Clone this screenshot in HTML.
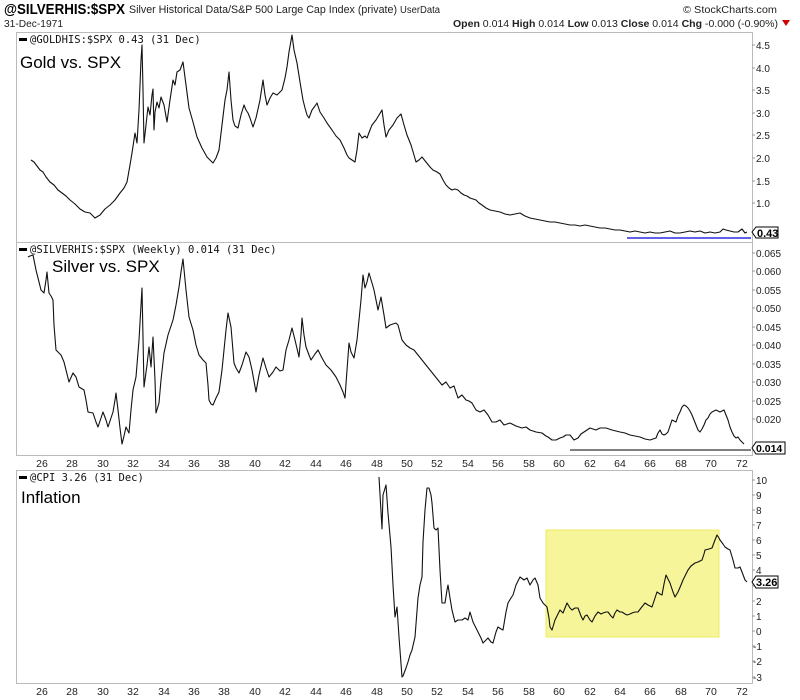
<!DOCTYPE html>
<html><head><meta charset="utf-8"><style>
html,body{margin:0;padding:0;background:#fff;}
svg{display:block;font-family:"Liberation Sans",sans-serif;}
.t{font-size:10px;fill:#222;}
.m{font-family:"DejaVu Sans Mono","Liberation Mono",monospace;font-size:10.5px;fill:#111;}
.big{font-size:17px;fill:#000;}
</style></head><body>
<svg width="800" height="700" viewBox="0 0 800 700">
<rect width="800" height="700" fill="#fff"/>
<!-- header -->
<text x="4" y="14" style="font-size:15px;font-weight:bold" fill="#000" textLength="121" lengthAdjust="spacingAndGlyphs">@SILVERHIS:$SPX</text>
<text x="129" y="13" class="t" style="font-size:11px" textLength="268" lengthAdjust="spacingAndGlyphs">Silver Historical Data/S&amp;P 500 Large Cap Index (private)</text>
<text x="400" y="13" class="t" textLength="40" lengthAdjust="spacingAndGlyphs">UserData</text>
<text x="683" y="13" class="t" fill="#555" textLength="94" lengthAdjust="spacingAndGlyphs">© StockCharts.com</text>
<text x="4" y="27" class="t" textLength="59" lengthAdjust="spacingAndGlyphs">31-Dec-1971</text>
<text x="778" y="27" class="t" text-anchor="end" style="font-size:10.5px" textLength="325" lengthAdjust="spacingAndGlyphs"><tspan font-weight="bold">Open</tspan> 0.014 <tspan font-weight="bold">High</tspan> 0.014 <tspan font-weight="bold">Low</tspan> 0.013 <tspan font-weight="bold">Close</tspan> 0.014 <tspan font-weight="bold">Chg</tspan> -0.000 (-0.90%)</text>
<polygon points="782,20 790,20 786,26" fill="#c00"/>

<!-- panel borders -->
<g fill="none" stroke="#bbb" stroke-width="1">
<rect x="16.5" y="32.5" width="736" height="210"/>
<rect x="16.5" y="242.5" width="736" height="213"/>
<rect x="16.5" y="470.5" width="736" height="213"/>
</g>

<!-- right axis ticks/labels -->
<g class="t" style="font-size:10px">
<text x="756" y="49">4.5</text><text x="756" y="72">4.0</text><text x="756" y="94">3.5</text><text x="756" y="117">3.0</text><text x="756" y="139">2.5</text><text x="756" y="162">2.0</text><text x="756" y="185">1.5</text><text x="756" y="207">1.0</text>
<text x="756" y="257">0.065</text><text x="756" y="275">0.060</text><text x="756" y="294">0.055</text><text x="756" y="312">0.050</text><text x="756" y="331">0.045</text><text x="756" y="349">0.040</text><text x="756" y="368">0.035</text><text x="756" y="386">0.030</text><text x="756" y="405">0.025</text><text x="756" y="423">0.020</text>
<text x="756" y="484">10</text><text x="756" y="499">9</text><text x="756" y="514">8</text><text x="756" y="529">7</text><text x="756" y="544">6</text><text x="756" y="559">5</text><text x="756" y="574">4</text><text x="756" y="605">2</text><text x="756" y="620">1</text><text x="756" y="635">0</text><text x="753" y="650">-1</text><text x="753" y="665">-2</text><text x="753" y="681">-3</text>
</g>
<g stroke="#999" stroke-width="1">
<path d="M752 45h3M752 68h3M752 90h3M752 113h3M752 135h3M752 158h3M752 181h3M752 203h3M752 253h3M752 271h3M752 290h3M752 308h3M752 327h3M752 345h3M752 364h3M752 382h3M752 401h3M752 419h3M752 480h3M752 495h3M752 510h3M752 525h3M752 540h3M752 555h3M752 570h3M752 586h3M752 601h3M752 616h3M752 631h3M752 646h3M752 661h3M752 677h3"/>
</g>

<!-- x axis labels -->
<g class="t" style="font-size:10.5px" text-anchor="middle">
<text x="42" y="467">26</text><text x="72" y="467">28</text><text x="103" y="467">30</text><text x="133" y="467">32</text><text x="164" y="467">34</text><text x="194" y="467">36</text><text x="224" y="467">38</text><text x="255" y="467">40</text><text x="285" y="467">42</text><text x="316" y="467">44</text><text x="346" y="467">46</text><text x="377" y="467">48</text><text x="407" y="467">50</text><text x="437" y="467">52</text><text x="468" y="467">54</text><text x="498" y="467">56</text><text x="529" y="467">58</text><text x="559" y="467">60</text><text x="590" y="467">62</text><text x="620" y="467">64</text><text x="650" y="467">66</text><text x="681" y="467">68</text><text x="711" y="467">70</text><text x="742" y="467">72</text>
<text x="42" y="695">26</text><text x="72" y="695">28</text><text x="103" y="695">30</text><text x="133" y="695">32</text><text x="164" y="695">34</text><text x="194" y="695">36</text><text x="224" y="695">38</text><text x="255" y="695">40</text><text x="285" y="695">42</text><text x="316" y="695">44</text><text x="346" y="695">46</text><text x="377" y="695">48</text><text x="407" y="695">50</text><text x="437" y="695">52</text><text x="468" y="695">54</text><text x="498" y="695">56</text><text x="529" y="695">58</text><text x="559" y="695">60</text><text x="590" y="695">62</text><text x="620" y="695">64</text><text x="650" y="695">66</text><text x="681" y="695">68</text><text x="711" y="695">70</text><text x="742" y="695">72</text>
</g>

<!-- panel titles -->
<rect x="19" y="38" width="8" height="3" fill="#000"/>
<text x="30" y="43" class="m">@GOLDHIS:$SPX 0.43 (31 Dec)</text>
<text x="20" y="68" class="big">Gold vs. SPX</text>
<rect x="19" y="248" width="8" height="3" fill="#000"/>
<text x="30" y="253" class="m">@SILVERHIS:$SPX (Weekly) 0.014 (31 Dec)</text>
<text x="52" y="272" class="big">Silver vs. SPX</text>
<rect x="19" y="476" width="8" height="3" fill="#000"/>
<text x="30" y="481" class="m">@CPI 3.26 (31 Dec)</text>
<text x="21" y="503" class="big">Inflation</text>

<!-- yellow box -->
<rect x="546" y="530" width="173" height="107" fill="#f6f59a" stroke="#ecec60" stroke-width="1"/>

<!-- reference lines -->
<line x1="627" y1="238" x2="751" y2="238" stroke="#0000e0" stroke-width="1.2"/>
<line x1="570" y1="450" x2="751" y2="450" stroke="#000" stroke-width="1"/>

<!-- gold -->
<polyline fill="none" stroke="#111" stroke-width="1.1" stroke-linejoin="round" points="31,160 34,162 37,166 40,170 43,172 46,177 50,182 54,185 58,190 62,193 66,196 70,200 75,204 80,209 85,212 90,213 95,218 100,215 105,209 110,205 115,200 120,193 124,188 127,182 130,165 132,153 135,133 137,143 139,110 141,60 142,45 143,90 144,143 146,125 148,107 150,115 152,95 153,89 154,130 155,112 157,102 159,108 161,97 164,105 167,122 170,100 173,80 175,85 177,72 180,70 183,62 186,85 189,108 193,122 197,137 202,148 207,157 210,160 213,163 216,158 219,150 222,125 225,100 227,90 229,72 231,100 233,120 235,126 238,128 241,115 244,105 246,110 248,113 250,118 253,127 256,118 260,100 263,80 265,95 267,105 270,98 273,93 277,95 282,90 285,78 287,67 289,52 292,35 294,50 297,63 300,82 303,100 305,108 307,115 309,118 312,110 315,106 317,103 320,112 324,118 327,123 332,130 336,136 340,140 344,148 347,155 349,158 352,160 355,162 357,150 359,133 362,138 365,136 367,138 370,130 372,125 376,120 379,115 382,110 384,125 386,137 389,130 393,125 397,118 401,114 404,125 407,135 411,145 414,155 416,162 419,160 422,157 426,162 430,167 433,170 437,172 440,174 443,180 446,185 449,188 452,190 455,189 458,190 461,193 464,195 467,196 470,198 473,199 476,200 479,203 482,205 486,208 490,210 495,211 500,212 505,214 510,215 515,214 520,213 525,216 530,218 535,219 540,220 545,221 550,222 555,222 560,223 565,224 570,225 575,225 580,226 585,225 590,226 595,227 600,228 605,228 610,229 615,230 620,230 625,231 630,232 635,231 640,232 645,233 650,232 655,233 660,233 665,232 670,231 675,233 680,233 685,232 690,231 695,232 700,231 705,233 710,232 715,233 720,232 723,229 726,230 730,231 734,232 738,232 742,229 745,233 747,232"/>

<!-- silver -->
<polyline fill="none" stroke="#111" stroke-width="1.1" stroke-linejoin="round" points="28,257 30,256 33,255 36,270 39,282 41,290 44,293 46,280 47,272 49,293 51,296 53,300 54,325 56,350 61,355 64,362 66,370 69,382 73,373 76,377 79,387 84,390 86,400 88,412 93,413 96,422 98,427 101,418 103,412 106,420 108,427 111,418 113,412 115,400 116,393 118,410 120,428 122,444 124,436 126,427 129,433 131,410 133,390 136,377 139,340 142,288 144,387 147,365 149,347 151,367 153,337 155,380 156,413 159,403 161,380 164,353 168,335 173,320 176,305 179,287 181,272 183,259 186,290 189,317 193,330 196,345 199,355 203,360 206,363 208,385 209,400 211,404 213,405 216,398 219,392 222,370 224,350 226,330 228,313 231,327 234,363 236,368 239,373 242,365 246,352 249,357 252,370 256,392 259,375 263,358 266,368 269,377 273,372 276,367 280,371 283,370 286,350 289,340 292,328 295,340 299,357 301,335 302,318 304,335 306,347 309,355 311,360 315,354 318,350 322,358 326,365 331,370 336,377 340,385 343,392 345,398 347,370 349,343 351,352 354,358 357,340 359,320 361,300 363,275 365,288 367,282 369,273 372,283 374,290 376,300 378,310 381,297 384,315 386,328 390,325 393,324 396,323 398,325 402,340 406,345 410,348 414,350 418,355 422,360 426,365 430,370 434,375 438,380 442,385 446,382 450,388 454,386 458,398 462,395 466,400 469,401 472,403 476,410 480,412 484,410 488,415 492,422 496,422 500,420 504,425 510,423 516,426 522,428 526,427 530,430 536,432 542,433 546,436 548,437 552,440 556,440 560,438 563,437 566,435 570,435 574,440 578,438 581,434 584,432 590,428 596,430 600,428 606,428 612,430 616,431 620,432 625,433 630,435 635,436 640,437 645,439 650,440 653,439 656,438 658,433 660,430 662,434 664,435 666,434 668,432 670,426 672,420 674,421 676,422 678,416 680,412 682,407 684,405 686,406 688,408 690,411 692,415 694,420 696,425 698,430 700,432 702,429 704,425 706,420 708,418 710,414 712,412 714,411 716,410 718,411 720,412 722,411 724,410 726,415 728,420 730,427 732,432 734,436 736,438 738,437 740,440 742,442 744,444"/>

<!-- cpi -->
<polyline fill="none" stroke="#111" stroke-width="1.1" stroke-linejoin="round" points="379,477 382,529 383,495 386,485 388,513 391,547 393,585 395,617 397,607 399,637 402,677 403,676 406,668 408,662 410,655 412,650 415,637 418,598 420,585 422,577 423,542 425,510 427,488 429,488 431,495 432,503 434,528 436,530 438,528 440,570 442,603 445,603 447,590 448,585 450,598 452,610 455,622 458,620 462,620 465,618 468,620 470,612 473,622 476,628 478,632 481,638 483,643 486,640 488,638 491,642 493,643 496,632 498,627 501,629 503,630 506,612 508,603 511,598 513,595 516,585 520,577 524,580 527,578 530,585 533,580 535,578 538,585 540,598 543,603 547,607 549,618 550,627 552,630 555,620 558,614 560,610 563,613 567,603 570,608 572,610 575,608 578,608 581,616 583,620 585,616 587,615 590,620 592,622 595,616 598,612 601,614 603,613 606,612 608,612 611,616 613,618 615,613 617,610 620,612 622,612 625,614 627,615 630,614 632,613 635,612 638,612 641,608 645,603 648,605 652,607 655,598 657,592 660,594 662,595 664,584 666,575 668,579 670,583 673,592 675,597 678,592 681,585 683,580 686,574 688,570 691,566 695,563 698,562 702,560 704,554 705,550 709,549 712,548 715,540 717,535 719,538 720,540 723,544 725,547 728,549 730,550 733,560 735,568 738,568 740,567 742,572 745,580 747,582"/>

<!-- value tags -->
<g font-family="Liberation Sans,sans-serif" font-size="11" font-weight="bold">
<polygon points="752,232 756,227 778,227 778,238 756,238" fill="#fff" stroke="#000" stroke-width="1"/>
<text x="757" y="237">0.43</text>
<polygon points="752,448 756,442 785,442 785,454 756,454" fill="#fff" stroke="#000" stroke-width="1"/>
<text x="756" y="452" font-size="10.5">0.014</text>
<polygon points="752,582 756,576 778,576 778,588 756,588" fill="#fff" stroke="#000" stroke-width="1"/>
<text x="756" y="586">3.26</text>
</g>
</svg>
</body></html>
